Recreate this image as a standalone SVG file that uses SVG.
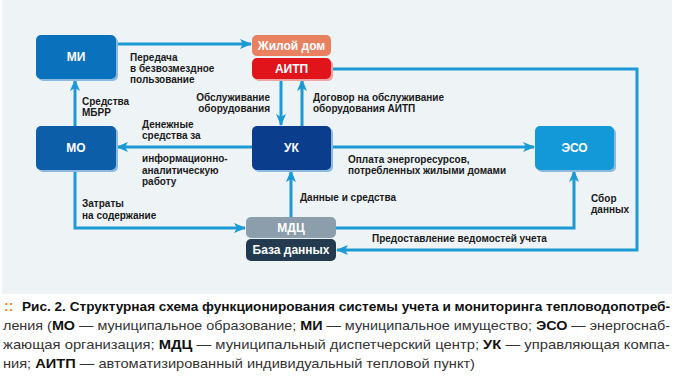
<svg xmlns="http://www.w3.org/2000/svg" width="677" height="385" viewBox="0 0 677 385">
<style>
.lbl{font-family:"Liberation Sans Narrow","Liberation Sans",Arial,sans-serif;font-weight:bold;font-size:10px;fill:#1a1a1a}
.nt{font-family:"Liberation Sans Narrow","Liberation Sans",Arial,sans-serif;font-weight:bold;font-size:12px;fill:#fff;text-anchor:middle}
.cn{fill:none;stroke:#1b9ad6;stroke-width:3;marker-end:url(#ah)}
.cap{font-family:"Liberation Sans Narrow","Liberation Sans",Arial,sans-serif;font-size:13.5px;fill:#333}
.b{font-weight:bold;fill:#111}
</style>
<defs>
<marker id="ah" viewBox="0 0 12 10" refX="11" refY="5" markerWidth="12" markerHeight="10" markerUnits="userSpaceOnUse" orient="auto">
<path d="M0,0 L12,5 L0,10 L3,5 z" fill="#1b9ad6"/>
</marker>
</defs>
<rect x="0" y="0" width="677" height="385" fill="#fff"/>
<rect x="2" y="0" width="670" height="294" fill="#eef3f6"/>
<g id="connectors">
<path class="cn" d="M116,44 H251"/>
<path class="cn" d="M75,126 V80"/>
<path class="cn" d="M252,147 H117"/>
<path class="cn" d="M281,80 V125"/>
<path class="cn" d="M302,126 V80"/>
<path class="cn" d="M331,147 H534"/>
<path class="cn" d="M75,170 V228 H245"/>
<path class="cn" d="M291,217 V171"/>
<path class="cn" d="M336,228 H574 V171"/>
<path class="cn" d="M331,69 H637 V250 H337"/>
</g>
<g id="MI">
<rect x="38" y="37" width="80" height="44" rx="5" fill="#8db9e0"/>
<rect x="36" y="35" width="80" height="44" rx="5" fill="#0a72bc"/>
<text class="nt" x="76" y="61">МИ</text>
</g>
<g id="ZhilDom">
<rect x="252" y="35" width="79" height="21" rx="5" fill="#e9805f"/>
<text class="nt" x="291.5" y="50">Жилой дом</text>
</g>
<g id="AITP">
<rect x="254" y="60" width="79" height="21" rx="5" fill="#f0a3a3"/>
<rect x="252" y="58" width="79" height="21" rx="5" fill="#e1141b"/>
<text class="nt" x="291.5" y="73">АИТП</text>
</g>
<g id="MO">
<rect x="38" y="128" width="80" height="44" rx="5" fill="#8db9e0"/>
<rect x="36" y="126" width="80" height="44" rx="5" fill="#0d5ea9"/>
<text class="nt" x="76" y="152">МО</text>
</g>
<g id="UK">
<rect x="254" y="128" width="79" height="44" rx="5" fill="#8db9e0"/>
<rect x="252" y="126" width="79" height="44" rx="5" fill="#0a3d8c"/>
<text class="nt" x="291.5" y="152">УК</text>
</g>
<g id="ESO">
<rect x="537" y="128" width="79" height="44" rx="5" fill="#8db9e0"/>
<rect x="535" y="126" width="79" height="44" rx="5" fill="#1499d8"/>
<text class="nt" x="574.5" y="152">ЭСО</text>
</g>
<g id="MDC">
<rect x="246" y="217" width="90" height="21" rx="5" fill="#8c9dab"/>
<text class="nt" x="291" y="232">МДЦ</text>
</g>
<g id="BD">
<rect x="246" y="239" width="90" height="22" rx="5" fill="#233a4f"/>
<text class="nt" x="291" y="254">База данных</text>
</g>
<g id="labels">
<text class="lbl" x="130" y="61">Передача</text>
<text class="lbl" x="130" y="72">в безвозмездное</text>
<text class="lbl" x="130" y="83">пользование</text>
<text class="lbl" x="82" y="105">Средства</text>
<text class="lbl" x="82" y="116">МБРР</text>
<text class="lbl" x="270" y="101" text-anchor="end">Обслуживание</text>
<text class="lbl" x="270" y="112" text-anchor="end">оборудования</text>
<text class="lbl" x="313" y="101">Договор на обслуживание</text>
<text class="lbl" x="313" y="112">оборудования АИТП</text>
<text class="lbl" x="142" y="128">Денежные</text>
<text class="lbl" x="142" y="139">средства за</text>
<text class="lbl" x="142" y="162">информационно-</text>
<text class="lbl" x="142" y="174">аналитическую</text>
<text class="lbl" x="142" y="185">работу</text>
<text class="lbl" x="348" y="163">Оплата энергоресурсов,</text>
<text class="lbl" x="348" y="174">потребленных жилыми домами</text>
<text class="lbl" x="300" y="201">Данные и средства</text>
<text class="lbl" x="82" y="207">Затраты</text>
<text class="lbl" x="82" y="219">на содержание</text>
<text class="lbl" x="591" y="202">Сбор</text>
<text class="lbl" x="591" y="213">данных</text>
<text class="lbl" x="372" y="242">Предоставление ведомостей учета</text>
</g>
<g id="caption">
<text x="4" y="311" font-family="Liberation Sans,Arial,sans-serif" font-weight="bold" font-size="14" fill="#f08a2c">::</text>
<text class="cap" x="22" y="311" textLength="648" lengthAdjust="spacingAndGlyphs"><tspan class="b">Рис. 2. Структурная схема функционирования системы учета и мониторинга тепловодопотреб-</tspan></text>
<text class="cap" x="3" y="330" textLength="667" lengthAdjust="spacingAndGlyphs">ления (<tspan class="b">МО</tspan> — муниципальное образование; <tspan class="b">МИ</tspan> — муниципальное имущество; <tspan class="b">ЭСО</tspan> — энергоснаб-</text>
<text class="cap" x="3" y="349" textLength="667" lengthAdjust="spacingAndGlyphs">жающая организация; <tspan class="b">МДЦ</tspan> — муниципальный диспетчерский центр; <tspan class="b">УК</tspan> — управляющая компа-</text>
<text class="cap" x="3" y="368" textLength="472" lengthAdjust="spacingAndGlyphs">ния; <tspan class="b">АИТП</tspan> — автоматизированный индивидуальный тепловой пункт)</text>
</g>
</svg>
